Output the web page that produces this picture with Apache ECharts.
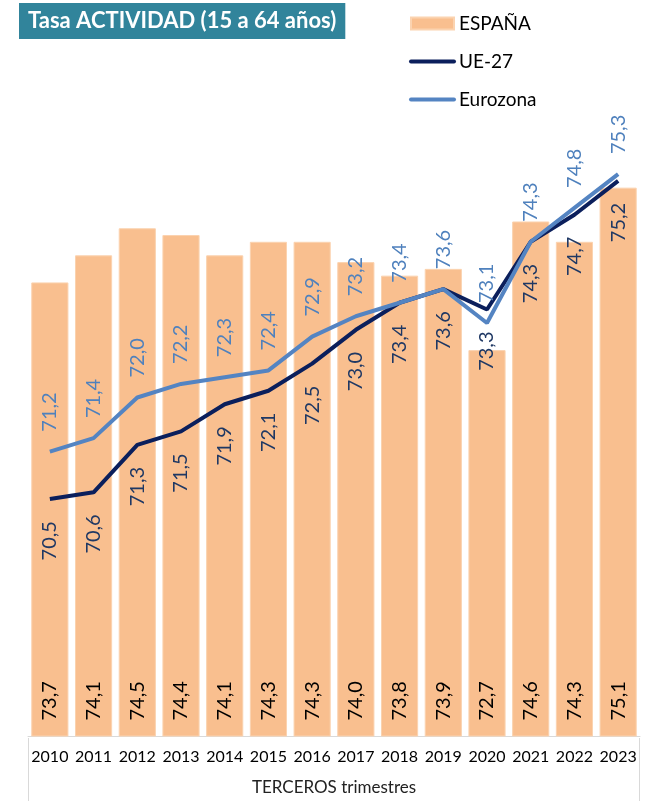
<!DOCTYPE html>
<html>
<head>
<meta charset="utf-8">
<script src="https://cdn.jsdelivr.net/npm/echarts@6/dist/echarts.min.js"></script>
<style>
  html, body { margin: 0; padding: 0; background: #fff; }
  #main { width: 656px; height: 801px; }
</style>
</head>
<body>
<div id="main"></div>
<script>
// datos (terceros trimestres)
var years = ["2010", "2011", "2012", "2013", "2014", "2015", "2016",
             "2017", "2018", "2019", "2020", "2021", "2022", "2023"];
var espana = [73.7, 74.1, 74.5, 74.4, 74.1, 74.3, 74.3, 74.0, 73.8, 73.9, 72.7, 74.6, 74.3, 75.1];
var ue27 = [70.5, 70.6, 71.3, 71.5, 71.9, 72.1, 72.5, 73.0, 73.4, 73.6, 73.3, 74.3, 74.7, 75.2];
var eurozona = [71.2, 71.4, 72.0, 72.2, 72.3, 72.4, 72.9, 73.2, 73.4, 73.6, 73.1, 74.3, 74.8, 75.3];

var FONT = "Lato";
var GRID_LEFT = 28;
var GRID_RIGHT = 16;
var GRID_BOTTOM = 63;
var W = 656, H = 801;

var C_UE = "#0B1F5C";
var C_EZ = "#5484C2";

// coma decimal
function fmt(p) {
  return p.value.toFixed(1).replace(".", ",");
}

var chart = echarts.init(document.getElementById("main"));

var option = {
  animation: false,
  textStyle: { fontFamily: FONT },
  title: {
    text: "Tasa ACTIVIDAD (15 a 64 años)",
    left: 19,
    top: 3,
    padding: [7, 9, 7, 9],
    backgroundColor: "#31849B",
    textStyle: { color: "#fff", fontSize: 22, fontWeight: "bold", fontFamily: FONT }
  },
  legend: {
    orient: "vertical",
    left: 409,
    top: 14,
    padding: 0,
    itemWidth: 43,
    itemHeight: 12,
    itemGap: 19,
    selectedMode: false,
    textStyle: { color: "#000", fontSize: 19, fontFamily: FONT },
    data: [
      { name: "ESPAÑA", icon: "rect" },
      { name: "UE-27", itemStyle: { opacity: 0 }, lineStyle: { width: 4, cap: "round", color: C_UE } },
      { name: "Eurozona", itemStyle: { opacity: 0 }, lineStyle: { width: 4, cap: "round", color: C_EZ } }
    ]
  },
  grid: { left: GRID_LEFT, right: GRID_RIGHT, top: 59, bottom: GRID_BOTTOM },
  xAxis: {
    type: "category",
    data: years,
    axisLine: { lineStyle: { color: "#D9D9D9", width: 1 } },
    axisTick: { show: false },
    axisLabel: { color: "#000", fontSize: 16, margin: 13, interval: 0, fontFamily: FONT },
    name: "TERCEROS trimestres",
    nameLocation: "middle",
    nameGap: 43,
    nameTextStyle: { color: "#222", fontSize: 17, fontFamily: FONT }
  },
  yAxis: {
    type: "value",
    min: 67,
    max: 77,
    show: false
  },
  series: [
    {
      name: "ESPAÑA",
      type: "bar",
      data: espana,
      barCategoryGap: "15%",
      itemStyle: { color: "#F9BF8F", borderColor: "#FBD3B0", borderWidth: 1 },
      label: {
        show: true,
        position: "insideBottom",
        distance: 12,
        rotate: 90,
        align: "left",
        verticalAlign: "middle",
        offset: [4, 0],
        color: "#000",
        fontSize: 20,
        fontFamily: FONT,
        formatter: fmt
      },
      z: 1
    },
    {
      name: "UE-27",
      type: "line",
      data: ue27,
      symbol: "circle",
      symbolSize: 0,
      lineStyle: { color: C_UE, width: 4 },
      itemStyle: { color: C_UE },
      label: {
        show: true,
        position: "bottom",
        distance: 22,
        rotate: 90,
        align: "right",
        verticalAlign: "middle",
        color: "#1F3864",
        fontSize: 20,
        fontFamily: FONT,
        formatter: fmt
      },
      z: 3
    },
    {
      name: "Eurozona",
      type: "line",
      data: eurozona,
      symbol: "circle",
      symbolSize: 0,
      lineStyle: { color: C_EZ, width: 4 },
      itemStyle: { color: C_EZ },
      label: {
        show: true,
        position: "top",
        distance: 20,
        rotate: 90,
        align: "left",
        verticalAlign: "middle",
        color: "#4F81BD",
        fontSize: 20,
        fontFamily: FONT,
        formatter: fmt
      },
      z: 4
    }
  ],
  // caja del eje de categorías
  graphic: [
    {
      type: "line",
      shape: { x1: GRID_LEFT + 0.5, y1: H - GRID_BOTTOM, x2: GRID_LEFT + 0.5, y2: H },
      style: { stroke: "#D9D9D9", lineWidth: 1 }
    },
    {
      type: "line",
      shape: { x1: W - GRID_RIGHT - 0.5, y1: H - GRID_BOTTOM, x2: W - GRID_RIGHT - 0.5, y2: H },
      style: { stroke: "#D9D9D9", lineWidth: 1 }
    }
  ]
};

option && chart.setOption(option);
</script>
</body>
</html>
